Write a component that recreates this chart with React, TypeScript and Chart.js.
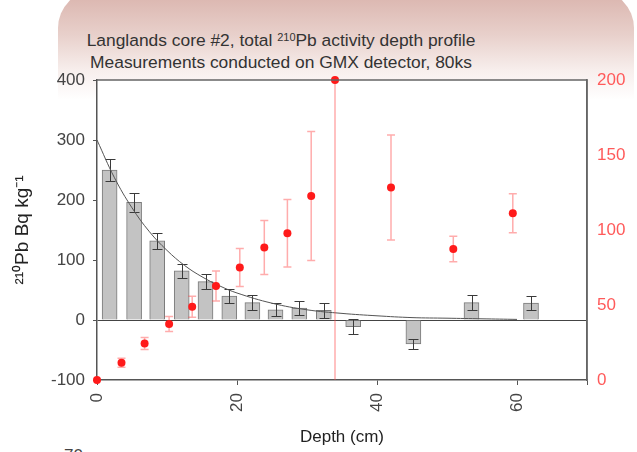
import React, { useEffect, useRef } from "react";
import { Chart, registerables } from "chart.js";

Chart.register(...registerables);

// Bars: total 210Pb activity (left axis, Bq/kg)
const barDepths = [1.8, 5.3, 8.6, 12.1, 15.5, 18.9, 22.2, 25.5, 28.9, 32.4, 36.6, 45.2, 53.5, 62];
const barValues = [250, 196, 132, 82, 64, 40, 29, 17, 20, 16, -11, -40, 29, 28];
const barErrors = [19, 16, 13, 12, 13, 12, 13, 11, 12, 13, 12, 9, 12, 12];

// Fitted curve (left axis)
const curveDepths = [0, 2.5, 5, 7.5, 10, 12.5, 15, 17.5, 20, 25, 30, 35, 40, 45, 50, 55, 60];
const curveValues = [300, 237, 187, 147, 116, 91, 72, 57, 45, 28, 17, 11, 7, 4, 3, 2, 1];

// Red points (right axis)
const redDepths = [0, 3.5, 6.8, 10.3, 13.6, 17, 20.4, 23.9, 27.2, 30.6, 34, 42, 50.9, 59.4];
const redValues = [0, 11.5, 24.4, 37.3, 48.9, 62.7, 75, 88.4, 97.8, 122.7, 200, 128.4, 87.3, 111.1];
const redErrors = [0, 3, 4, 5, 7, 10, 12.6, 18, 22.5, 43, 250, 35, 8.5, 13];

const titleLine1Pre = "Langlands core #2, total ";
const titleSup = "210";
const titleLine1Post = "Pb activity depth profile";
const titleLine2 = "Measurements conducted on GMX detector, 80ks";
const xTitle = "Depth (cm)";
const yTitle = "²¹⁰Pb Bq kg⁻¹";

const FONT = "'Liberation Sans', Arial, Helvetica, sans-serif";

const errorPlugin = {
  id: "errorBars",
  afterDatasetDraw(chart: any, args: any) {
    const ctx = chart.ctx;
    const x = chart.scales.x;
    if (args.index === 2) {
      const y = chart.scales.y;
      ctx.save();
      ctx.strokeStyle = "#3a3a3a";
      ctx.lineWidth = 1;
      barDepths.forEach((d, i) => {
        const px = Math.round(x.getPixelForValue(d)) + 0.5;
        const t = Math.round(y.getPixelForValue(barValues[i] + barErrors[i])) + 0.5;
        const b = Math.round(y.getPixelForValue(barValues[i] - barErrors[i])) + 0.5;
        ctx.beginPath();
        ctx.moveTo(px, t); ctx.lineTo(px, b);
        ctx.moveTo(px - 5, t); ctx.lineTo(px + 5, t);
        ctx.moveTo(px - 5, b); ctx.lineTo(px + 5, b);
        ctx.stroke();
      });
      ctx.restore();
    }
  },
  beforeDatasetDraw(chart: any, args: any) {
    if (args.index !== 0) return;
    const ctx = chart.ctx;
    const x = chart.scales.x;
    const y1 = chart.scales.y1;
    const area = chart.chartArea;
    ctx.save();
    ctx.beginPath();
    ctx.rect(area.left, area.top, area.right - area.left, area.bottom - area.top);
    ctx.clip();
    ctx.strokeStyle = "rgba(255,70,70,0.45)";
    ctx.lineWidth = 1.5;
    redDepths.forEach((d, i) => {
      if (!redErrors[i]) return;
      const px = x.getPixelForValue(d);
      const t = y1.getPixelForValue(redValues[i] + redErrors[i]);
      const b = y1.getPixelForValue(redValues[i] - redErrors[i]);
      ctx.beginPath();
      ctx.moveTo(px, t); ctx.lineTo(px, b);
      ctx.moveTo(px - 4, t); ctx.lineTo(px + 4, t);
      ctx.moveTo(px - 4, b); ctx.lineTo(px + 4, b);
      ctx.stroke();
    });
    ctx.restore();
  },
};

const framePlugin = {
  id: "frame",
  beforeDraw(chart: any) {
    const { ctx, chartArea: a } = chart;
    ctx.save();
    ctx.fillStyle = "#ffffff";
    ctx.fillRect(a.left, a.top, a.right - a.left, a.bottom - a.top);
    ctx.restore();
  },
  afterDraw(chart: any) {
    const { ctx, chartArea: a } = chart;
    ctx.save();
    ctx.strokeStyle = "#666";
    ctx.lineWidth = 1.5;
    ctx.beginPath();
    ctx.moveTo(a.left, a.top);
    ctx.lineTo(a.right, a.top);
    ctx.lineTo(a.right, a.bottom);
    ctx.stroke();
    ctx.restore();
  },
};

export default function App() {
  const ref = useRef<HTMLCanvasElement>(null);
  useEffect(() => {
    document.body.style.margin = "0";
    Chart.defaults.font.family = FONT;
    const chart = new Chart(ref.current as HTMLCanvasElement, {
      type: "bar",
      data: {
        datasets: [
          {
            type: "scatter",
            label: "red",
            data: redDepths.map((d, i) => ({ x: d, y: redValues[i] })),
            yAxisID: "y1",
            backgroundColor: "#ff1a1a",
            borderColor: "#ff1a1a",
            pointRadius: 4,
            pointBorderWidth: 0,
            order: 0,
            clip: false,
          } as any,
          {
            type: "line",
            label: "fit",
            data: curveDepths.map((d, i) => ({ x: d, y: curveValues[i] })),
            yAxisID: "y",
            borderColor: "#555",
            borderWidth: 1,
            pointRadius: 0,
            tension: 0.4,
            fill: false,
            order: 1,
          } as any,
          {
            type: "bar",
            label: "bars",
            data: barDepths.map((d, i) => ({ x: d, y: barValues[i] })),
            yAxisID: "y",
            backgroundColor: "#c3c3c3",
            borderColor: "#7a7a7a",
            borderWidth: 1,
            barThickness: 15,
            order: 2,
          } as any,
        ],
      },
      options: {
        animation: false,
        responsive: false,
        maintainAspectRatio: false,
        layout: { padding: { top: 80, left: 0, right: 0, bottom: 0 } },
        plugins: { legend: { display: false }, tooltip: { enabled: false }, title: { display: false } },
        scales: {
          x: {
            type: "linear",
            position: "bottom",
            min: 0,
            max: 70,
            offset: false,
            ticks: {
              stepSize: 20,
              minRotation: 90,
              maxRotation: 90,
              color: "#444",
              font: { size: 17 },
              padding: 8,
              callback: (v: any) => (v === 70 ? "" : String(v)),
            },
            grid: { display: true, drawOnChartArea: false, offset: false, tickLength: 5, tickColor: "#555" },
            border: { display: true, color: "#555", width: 1.5 },
            title: { display: true, text: xTitle, color: "#222", font: { size: 17 }, padding: { top: 0, bottom: 4 } },
            afterFit: (s: any) => { s.height = 72; },
          } as any,
          y: {
            type: "linear",
            position: "left",
            min: -100,
            max: 400,
            ticks: { stepSize: 100, color: "#444", font: { size: 17 }, padding: 8 },
            grid: {
              drawOnChartArea: true,
              tickLength: 4,
              tickColor: "#555",
              color: (c: any) => (c.tick && c.tick.value === 0 ? "#444" : "rgba(0,0,0,0)"),
              lineWidth: 1,
            },
            border: { display: true, color: "#555", width: 1.5 },
            title: { display: true, text: yTitle, color: "#222", font: { size: 19 }, padding: { top: 11, bottom: 0 } },
            afterFit: (s: any) => { s.width = 97; },
          } as any,
          y1: {
            type: "linear",
            position: "right",
            min: 0,
            max: 200,
            ticks: { stepSize: 50, color: "#ff5a5a", font: { size: 17 }, padding: 10 },
            grid: { drawOnChartArea: false, drawTicks: false },
            border: { display: true, color: "#666", width: 1.5 },
            afterFit: (s: any) => { s.width = 50; },
          } as any,
        },
      },
      plugins: [errorPlugin, framePlugin],
    });
    return () => chart.destroy();
  }, []);

  return (
    <div style={{ position: "fixed", left: 0, top: 0, width: 637, height: 452, overflow: "hidden", background: "#fff", fontFamily: FONT }}>
      <div
        style={{
          position: "absolute",
          left: 58,
          top: -10,
          width: 576,
          height: 220,
          borderRadius: 38,
          background: "linear-gradient(to bottom, #d9b2ab 0px, #e8d0cb 45px, #f7eeec 80px, #ffffff 110px)",
        }}
      />
      <div
        style={{
          position: "absolute",
          left: 81,
          width: 400,
          top: 29,
          textAlign: "center",
          fontSize: 17.4,
          lineHeight: "22px",
          color: "#333",
          whiteSpace: "nowrap",
        }}
      >
        <div>
          {titleLine1Pre}
          <sup style={{ fontSize: 11, verticalAlign: "top", position: "relative", top: -3 }}>{titleSup}</sup>
          {titleLine1Post}
        </div>
        <div>{titleLine2}</div>
      </div>
      <div style={{ position: "absolute", left: 64, top: 446, fontSize: 17, color: "#444" }}>70</div>
      <canvas ref={ref} width={637} height={452} style={{ position: "absolute", left: 0, top: 0, width: 637, height: 452 }} />
    </div>
  );
}
